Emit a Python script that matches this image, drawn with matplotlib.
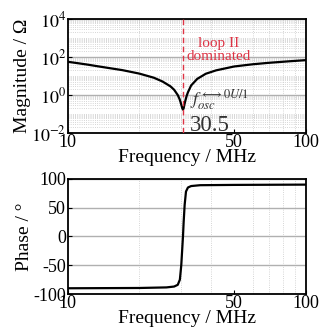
import matplotlib
matplotlib.use("Agg")
import matplotlib.pyplot as plt
from matplotlib.ticker import FixedLocator, NullFormatter, LogLocator
import numpy as np

plt.rcParams['font.family'] = ['Liberation Serif', 'DejaVu Serif']
plt.rcParams['mathtext.fontset'] = 'stix'

# Impedance magnitude (ohm) versus frequency (MHz)
mag_freq = [10, 12, 14, 17, 20, 23, 25, 27, 28, 29, 29.5, 29.8, 30.1, 30.3, 30.5,
            30.7, 30.9, 31.2, 31.6, 32, 33, 35, 38, 42, 50, 60, 70, 85, 100]
mag_ohm = [57, 41, 30, 20.5, 13.5, 8.2, 5.2, 2.9, 1.9, 1.0, 0.62, 0.42, 0.27, 0.2, 0.17,
           0.2, 0.3, 0.5, 0.9, 1.4, 3.2, 7.1, 13.2, 20, 32, 42, 50, 60, 69]

# Impedance phase (degrees) versus frequency (MHz)
ph_freq = [10, 20, 26, 28, 29, 29.6, 30.0, 30.3, 30.5, 30.7, 31.0, 31.4, 32, 33, 36, 50, 100]
ph_deg = [-90, -89.5, -88.5, -87, -84, -75, -50, -20, 0, 25, 55, 78, 85, 87.5, 89, 89.5, 90]

f_osc = 30.5
x_ticks = [10, 50, 100]
x_grid = [20, 30, 40, 50, 60, 70, 80, 90]
mag_ticks = [1e-2, 1e0, 1e2, 1e4]
mag_tick_labels = [r'$10^{-2}$', r'$10^{0}$', r'$10^{2}$', r'$10^{4}$']
ph_ticks = [-100, -50, 0, 50, 100]

fig = plt.figure(figsize=(3.2, 3.3), dpi=100)
ax1 = fig.add_axes([0.211, 0.597, 0.745, 0.345])
ax2 = fig.add_axes([0.211, 0.109, 0.745, 0.349])

fs = 13
fs_label = 14
grid_major = dict(color='#b0b0b0', lw=1.0, ls='-')
grid_minor = dict(color='#c8c8c8', lw=0.6, ls=':')

for ax in (ax1, ax2):
    ax.set_xscale('log')
    ax.set_xlim(10, 100)
    ax.xaxis.set_major_locator(FixedLocator(x_ticks))
    ax.set_xticklabels([str(t) for t in x_ticks])
    ax.xaxis.set_minor_locator(FixedLocator(x_grid))
    ax.xaxis.set_minor_formatter(NullFormatter())
    ax.grid(True, which='minor', axis='x', **grid_minor)
    ax.tick_params(which='both', direction='in', labelsize=fs, pad=1, length=3)
    ax.tick_params(which='minor', length=0)
    for s in ax.spines.values():
        s.set_linewidth(1.3)
    ax.set_xlabel('Frequency / MHz', fontsize=fs_label, labelpad=-1.5)

# Magnitude panel
ax1.set_yscale('log')
ax1.set_ylim(1e-2, 1e4)
ax1.yaxis.set_major_locator(FixedLocator(mag_ticks))
ax1.set_yticklabels(mag_tick_labels)
ax1.yaxis.set_minor_locator(LogLocator(base=10, subs=np.arange(1, 10), numticks=20))
ax1.yaxis.set_minor_formatter(NullFormatter())
ax1.grid(True, which='major', axis='y', **grid_major)
ax1.grid(True, which='minor', axis='y', **grid_minor)
ax1.plot(mag_freq, mag_ohm, color='black', lw=1.6, zorder=3)
ax1.axvline(f_osc, color='#dd3344', ls=(0, (4, 2.5)), lw=1.0, zorder=4)
ax1.set_ylabel('Magnitude / Ω', fontsize=fs_label, labelpad=0)
ax1.text(43, 230, 'loop II\ndominated', color='#dd3344', fontsize=11,
         ha='center', va='center', linespacing=0.95)
ax1.text(32.6, 0.6, r'$f_{osc}^{\longleftrightarrow 0U/1}$', fontsize=13,
         color='#333333', ha='left', va='center')
ax1.text(32.6, 0.0125, '30.5', fontsize=16.5, color='#333333', ha='left', va='baseline')

# Phase panel
ax2.set_ylim(-100, 100)
ax2.yaxis.set_major_locator(FixedLocator(ph_ticks))
ax2.set_yticklabels([str(t) for t in ph_ticks])
ax2.grid(True, which='major', axis='y', **grid_major)
ax2.plot(ph_freq, ph_deg, color='black', lw=1.6, zorder=3)
ax2.set_ylabel('Phase / °', fontsize=fs_label, labelpad=0)

fig.savefig('out.png', dpi=100)
